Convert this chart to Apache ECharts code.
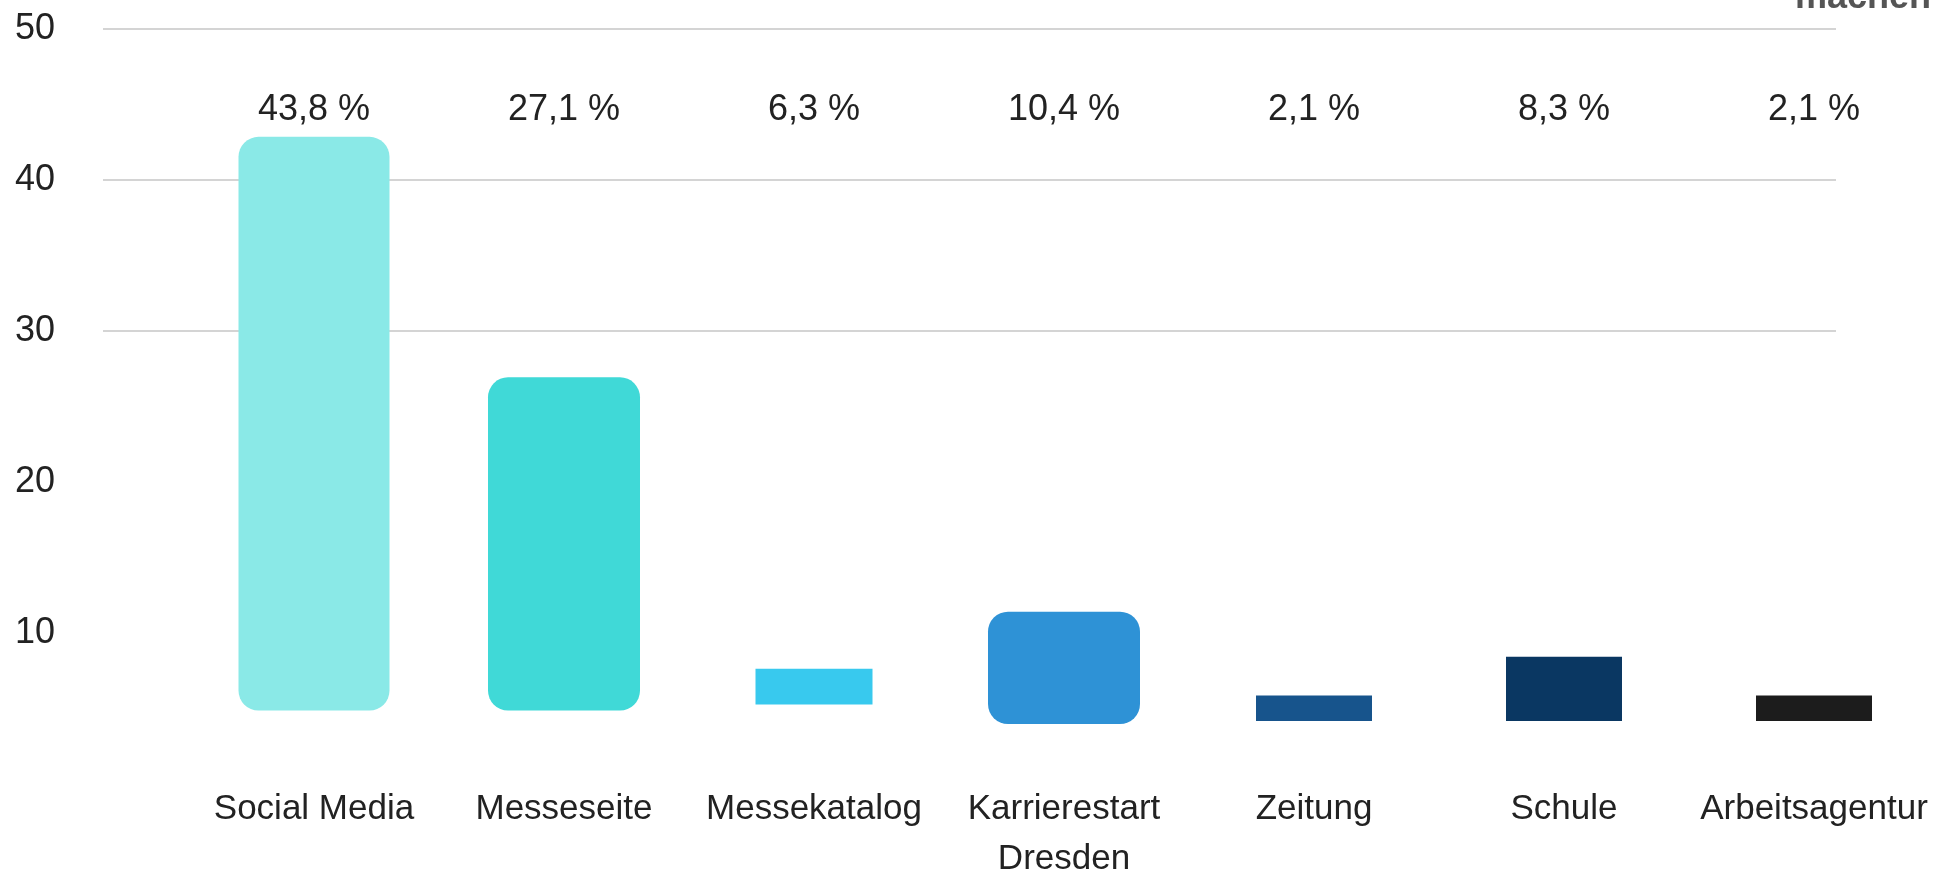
<!DOCTYPE html>
<html>
<head>
<meta charset="utf-8">
<script src="https://cdn.jsdelivr.net/npm/echarts@6/dist/echarts.min.js"></script>
<style>
  html, body { margin: 0; padding: 0; background: #fff; }
  #chart { width: 1939px; height: 884px; }
</style>
</head>
<body>
<div id="chart"></div>
<script>
// Kategorien und Werte
var categories = ['Social Media', 'Messeseite', 'Messekatalog', 'Karrierestart\nDresden', 'Zeitung', 'Schule', 'Arbeitsagentur'];
var percentLabels = ['43,8 %', '27,1 %', '6,3 %', '10,4 %', '2,1 %', '8,3 %', '2,1 %'];
// Balken schweben: Unterkante und Oberkante in Achseneinheiten
var barBottom = [4.5, 4.5, 4.9, 3.6, 3.8, 3.8, 3.8];
var barTop = [42.8, 26.75, 7.3, 11.1, 5.5, 8.1, 5.5];
var yTicks = [0, 10, 20, 30, 40, 50];

// Stil
var barColors = ['#8AE9E7', '#40D9D7', '#38C9EE', '#2E92D6', '#17548C', '#0A3762', '#1C1C1C'];
var barWidths = [151, 152, 117, 152, 116, 116, 116];
var barRadius = [20, 20, 0, 20, 0, 0, 0];
var FONT = 'Liberation Sans, Arial, sans-serif';
var TEXT = '#222';

var chart = echarts.init(document.getElementById('chart'), null, {renderer: 'canvas'});

function renderBar(params, api) {
  var i = api.value(0);
  var lo = api.coord([i, api.value(1)]);
  var hi = api.coord([i, api.value(2)]);
  var w = barWidths[i];
  return {
    type: 'rect',
    shape: {x: lo[0] - w / 2, y: hi[1], width: w, height: lo[1] - hi[1], r: barRadius[i]},
    style: {fill: barColors[i]}
  };
}

var barData = categories.map(function(c, i) {
  return [i, barBottom[i], barTop[i]];
});

var option = {
  backgroundColor: '#fff',
  animation: false,
  grid: [
    {left: 103, right: 103, top: 29, bottom: 100}, // Raster + y-Achse
    {left: 189, width: 1765, top: 29, bottom: 100}  // Balken
  ],
  xAxis: [
    {type: 'value', gridIndex: 0, show: false, min: 0, max: 1},
    {
      type: 'category', gridIndex: 1, data: categories, position: 'bottom',
      axisLine: {show: false}, axisTick: {show: false},
      axisLabel: {color: TEXT, fontFamily: FONT, fontSize: 35, margin: 6, lineHeight: 50, interval: 0}
    },
    {
      type: 'category', gridIndex: 1, data: percentLabels, position: 'top',
      axisLine: {show: false}, axisTick: {show: false},
      axisLabel: {inside: true, color: TEXT, fontFamily: FONT, fontSize: 36, margin: 63, interval: 0}
    }
  ],
  yAxis: [
    {
      type: 'value', gridIndex: 0, min: yTicks[0], max: yTicks[yTicks.length - 1], interval: 10,
      axisLine: {show: false}, axisTick: {show: false},
      axisLabel: {showMinLabel: false, color: TEXT, fontFamily: FONT, fontSize: 36, margin: 48, padding: [0, 0, 8, 0]},
      splitLine: {show: true, lineStyle: {width: 2, color: ['rgba(0,0,0,0)', 'rgba(0,0,0,0)', 'rgba(0,0,0,0)', '#d4d4d4', '#d4d4d4', '#d4d4d4']}}
    },
    {type: 'value', gridIndex: 1, min: 0, max: 50, show: false}
  ],
  series: [{
    type: 'custom',
    xAxisIndex: 1,
    yAxisIndex: 1,
    renderItem: renderBar,
    encode: {x: 0, y: [1, 2]},
    data: barData
  }],
  graphic: [{
    type: 'text', left: 1795, top: -20,
    style: {text: 'machen', font: 'bold 36px ' + FONT, fill: '#555'}
  }]
};

chart.setOption(option);
</script>
</body>
</html>
